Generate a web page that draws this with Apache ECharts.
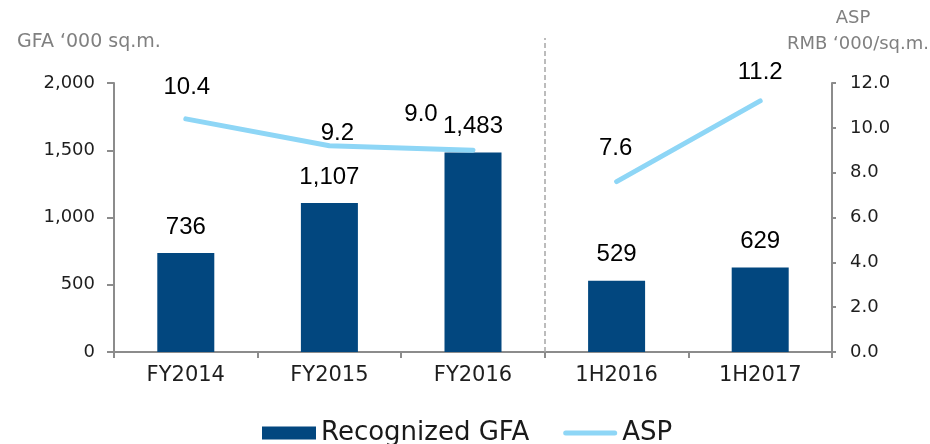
<!DOCTYPE html>
<html>
<head>
<meta charset="utf-8">
<script src="https://cdn.jsdelivr.net/npm/echarts@6/dist/echarts.min.js"></script>
<style>
html,body{margin:0;padding:0;background:#fff;}
#chart{width:930px;height:444px;}
</style>
</head>
<body>
<div id="chart"></div>
<script>
const categories = ['FY2014', 'FY2015', 'FY2016', '1H2016', '1H2017'];
const gfaValues = [736, 1107, 1483, 529, 629];
const aspValues = [10.4, 9.2, 9.0, 7.6, 11.2];
const annualCount = 3; // first three are full years, the rest half-years
const leftTicks = { min: 0, max: 2000, interval: 500 };
const rightTicks = { min: 0, max: 12, interval: 2 };

const chart = echarts.init(document.getElementById('chart'), null, { renderer: 'canvas' });

const axisGray = '#8c8c8c';
const tickText = '#1e1e1e';
const labelFont = '"Liberation Sans", Arial, sans-serif';
const axisFont = '"DejaVu Sans", sans-serif';

// label offsets (styling only)
const aspLabelOffsets = [[1, -19], [8, 0], [-52, -23], [-1, -21], [0, -16]];

function aspSeriesData(from, to) {
  return aspValues.map((v, i) => {
    if (i < from || i >= to) return '-';
    return { value: v, label: { offset: aspLabelOffsets[i] } };
  });
}

const lineColor = '#8ed6f6';
const lineStyleCommon = { color: lineColor, width: 5, cap: 'round', join: 'round' };
const lineLabel = {
  show: true, position: 'top', distance: 0,
  fontFamily: labelFont, fontSize: 24, color: '#000',
  formatter: p => Number(p.value).toFixed(1)
};

const option = {
  animation: false,
  backgroundColor: '#fff',
  grid: { left: 114, right: 98, top: 83, bottom: 92, containLabel: false },
  graphic: [
    { type: 'text', x: 17, y: 33, style: { text: 'GFA \u2018000 sq.m.', font: '19px "DejaVu Sans", sans-serif', fill: '#808080' } },
    { type: 'text', x: 853, y: 9, style: { text: 'ASP', align: 'center', font: '18px "DejaVu Sans", sans-serif', fill: '#808080' } },
    { type: 'text', x: 858, y: 35, style: { text: 'RMB \u2018000/sq.m.', align: 'center', font: '18px "DejaVu Sans", sans-serif', fill: '#808080' } }
  ],
  legend: {
    left: 257, top: 415,
    itemWidth: 54, itemHeight: 13, itemGap: 34,
    textStyle: { fontFamily: axisFont, fontSize: 26, color: '#1a1a1a' },
    data: [
      { name: 'Recognized GFA', icon: 'rect' },
      { name: 'ASP', icon: 'path://M0,0 M54,13 M2.5,4 L51.5,4 A2.5,2.5 0 0 1 51.5,9 L2.5,9 A2.5,2.5 0 0 1 2.5,4 Z' }
    ]
  },
  xAxis: [
    {
      type: 'category', data: categories, boundaryGap: true,
      axisLine: { show: true, onZero: false, lineStyle: { color: axisGray, width: 2 } },
      axisTick: { show: true, alignWithLabel: false, length: 6, lineStyle: { color: axisGray, width: 2 } },
      axisLabel: { fontFamily: axisFont, fontSize: 21, color: tickText, margin: 13 },
      splitLine: { show: false }
    },
    { type: 'value', min: -0.5, max: categories.length - 0.5, show: false,
      axisLine: { show: false, onZero: false } }
  ],
  yAxis: [
    {
      type: 'value', min: leftTicks.min, max: leftTicks.max, interval: leftTicks.interval,
      axisLine: { show: true, onZero: false, lineStyle: { color: axisGray, width: 2 } },
      axisTick: { show: true, length: 7, lineStyle: { color: axisGray, width: 2 } },
      axisLabel: { fontFamily: axisFont, fontSize: 18, color: tickText, margin: 19,
        formatter: v => v.toLocaleString('en-US') },
      splitLine: { show: false }
    },
    {
      type: 'value', min: rightTicks.min, max: rightTicks.max, interval: rightTicks.interval,
      position: 'right',
      axisLine: { show: true, onZero: false, lineStyle: { color: axisGray, width: 2 } },
      axisTick: { show: true, length: 4, lineStyle: { color: axisGray, width: 2 } },
      axisLabel: { fontFamily: axisFont, fontSize: 18, color: tickText, margin: 18,
        formatter: v => v.toFixed(1) },
      splitLine: { show: false }
    }
  ],
  series: [
    {
      name: 'Recognized GFA', type: 'bar', xAxisIndex: 0, yAxisIndex: 0,
      data: gfaValues, barWidth: 57,
      itemStyle: { color: '#02477f' },
      label: { show: true, position: 'top', distance: 14, fontFamily: labelFont, fontSize: 24, color: '#000',
        formatter: p => p.value.toLocaleString('en-US') }
    },
    {
      name: 'ASP', type: 'line', xAxisIndex: 0, yAxisIndex: 1,
      data: aspSeriesData(0, annualCount),
      symbol: 'circle', symbolSize: 1, itemStyle: { color: lineColor },
      lineStyle: lineStyleCommon, label: lineLabel, z: 5
    },
    {
      name: 'ASP', type: 'line', xAxisIndex: 0, yAxisIndex: 1,
      data: aspSeriesData(annualCount, categories.length),
      symbol: 'circle', symbolSize: 1, itemStyle: { color: lineColor },
      lineStyle: lineStyleCommon, label: lineLabel, z: 5
    },
    {
      type: 'line', xAxisIndex: 1, yAxisIndex: 0, data: [], clip: false, silent: true,
      markLine: {
        silent: true, symbol: 'none', animation: false,
        label: { show: false },
        lineStyle: { type: [5, 3], color: '#a6a6a6', width: 1.5 },
        data: [[{ xAxis: annualCount - 0.5, yAxis: 0 }, { xAxis: annualCount - 0.5, y: 38 }]]
      }
    }
  ]
};

chart.setOption(option);
</script>
</body>
</html>
